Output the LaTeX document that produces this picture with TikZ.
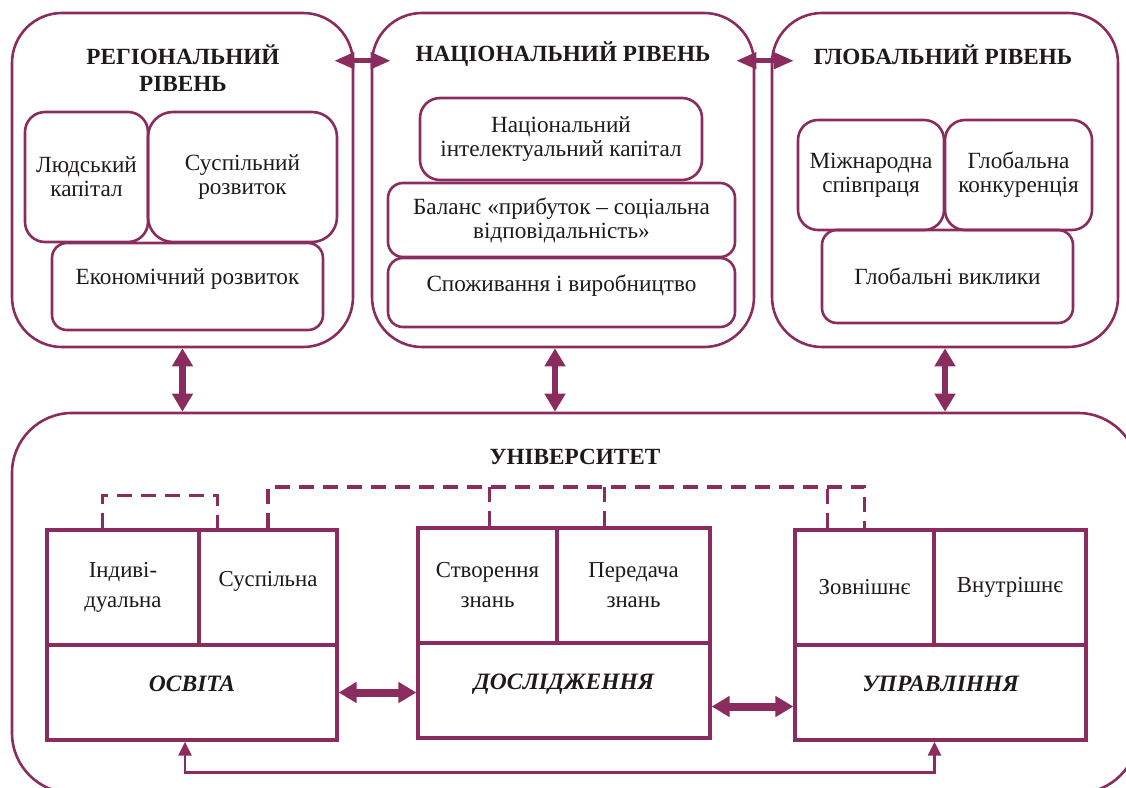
\documentclass[tikz,border=0pt]{standalone}
\usepackage{fontspec}
\setmainfont{Liberation Serif}
\usepackage{tikz}
\usetikzlibrary{calc,arrows.meta}
\definecolor{plum}{HTML}{8B2C5F}
\definecolor{ink}{HTML}{1E1A1B}
\newcommand{\itemfont}{\fontsize{23.2}{24}\selectfont}
\newcommand{\cellfont}{\fontsize{22.8}{30}\selectfont}
\tikzset{
  levelbox/.style={draw=plum, line width=2.6pt, rounded corners=#1, inner sep=0pt},
  levelbox/.default=50pt,
  itembox/.style={draw=plum, line width=2.6pt, rounded corners=#1, inner sep=0pt,
    align=center, text=ink, font=\itemfont},
  itembox/.default=20pt,
  cell/.style={draw=plum, line width=3.2pt, inner sep=0pt, align=center,
    text=ink, font=\cellfont},
  ttl/.style={text=ink, align=center, font=\fontsize{23.2}{27}\selectfont\bfseries},
  dlink/.style={draw=plum, line width=3.2pt, dash pattern=on 15pt off 9pt},
  dblarrow/.style={draw=plum, line width=#1,
    {Triangle[width=20pt,length=18pt]}-{Triangle[width=20pt,length=18pt]}},
  toparrow/.style={draw=plum, line width=4.5pt,
    {Triangle[width=16pt,length=20pt]}-{Triangle[width=16pt,length=20pt]}},
  linkarrow/.style={draw=plum, line width=2.8pt,
    {Triangle[width=13pt,length=14pt]}-{Triangle[width=13pt,length=14pt]}}
}

\begin{document}
\begin{tikzpicture}[x=1pt, y=-1pt]
  \path[use as bounding box] (0,0) rectangle (1126,787);
  \clip (0,0) rectangle (1126,787);

  % upper levels
  \node[levelbox, minimum width=341pt, minimum height=334pt] (reg) at (182.5,180) {};
  \node[levelbox, minimum width=382pt, minimum height=334pt] (nat) at (563,180) {};
  \node[levelbox, minimum width=346pt, minimum height=334pt] (glob) at (945,180) {};

  \node[ttl] (regt) at (183,68) {РЕГІОНАЛЬНИЙ\\РІВЕНЬ};
  \node[ttl] (natt) at (563,54) {НАЦІОНАЛЬНИЙ РІВЕНЬ};
  \node[ttl] (globt) at (943,55) {ГЛОБАЛЬНИЙ РІВЕНЬ};

  \node[itembox, minimum width=123pt, minimum height=130pt] (ljud) at (86.5,177) {Людський\\капітал};
  \node[itembox=25pt, minimum width=189pt, minimum height=130pt] (susp) at (242.5,177) {Суспільний\\розвиток};
  \node[itembox=15pt, minimum width=271pt, minimum height=87pt, text depth=20pt] (ekon) at (187.5,286.5) {Економічний розвиток};

  \node[itembox, minimum width=282pt, minimum height=82pt] (nik) at (561,139) {Національний\\інтелектуальний капітал};
  \node[itembox=15pt, minimum width=347pt, minimum height=74pt] (bal) at (561.5,220) {Баланс «прибуток – соціальна\\відповідальність»};
  \node[itembox=15pt, minimum width=347pt, minimum height=69pt, text depth=19pt] (spo) at (561.5,292.5) {Споживання і виробництво};

  \node[itembox, minimum width=146pt, minimum height=110pt] (mizh) at (871,175) {Міжнародна\\співпраця};
  \node[itembox, minimum width=147pt, minimum height=110pt] (konk) at (1018.5,175) {Глобальна\\конкуренція};
  \node[itembox=15pt, minimum width=251pt, minimum height=93pt] (vykl) at (947.5,276.5) {Глобальні виклики};

  \draw[toparrow] ($(reg.north east)+(-20,49)$) -- ($(nat.north west)+(20,49)$);
  \draw[toparrow] ($(nat.north east)+(-19,49)$) -- ($(glob.north west)+(23,49)$);

  % university
  \node[levelbox=60pt, minimum width=1126pt, minimum height=380pt] (uni) at (575,603) {};
  \node[ttl] (unit) at (575,457) {УНІВЕРСИТЕТ};

  \coordinate (natdown) at ($(nat.south)+(-8,0)$);
  \draw[dblarrow=6.5pt] (reg.south) -- (reg.south |- uni.north);
  \draw[dblarrow=6.5pt] (natdown) -- (natdown |- uni.north);
  \draw[dblarrow=6.5pt] (glob.south) -- (glob.south |- uni.north);

  \node[cell, minimum width=152pt, minimum height=115pt] (ind) at (123,587.5) {Індиві-\\дуальна};
  \node[cell, minimum width=138pt, minimum height=115pt, text depth=18pt] (susb) at (268,587.5) {Суспільна};
  \node[cell, minimum width=290pt, minimum height=95pt, text depth=18pt, font=\fontsize{23.5}{30}\selectfont\bfseries\itshape] (osv) at (192,692.5) {ОСВІТА};

  \node[cell, minimum width=139pt, minimum height=115pt] (stv) at (487.5,585.5) {Створення\\знань};
  \node[cell, minimum width=153pt, minimum height=115pt] (per) at (633.5,585.5) {Передача\\знань};
  \node[cell, minimum width=292pt, minimum height=95pt, text depth=18pt, font=\fontsize{23.5}{30}\selectfont\bfseries\itshape] (dos) at (564,690.5) {ДОСЛІДЖЕННЯ};

  \node[cell, minimum width=139pt, minimum height=115pt] (zovn) at (864.5,587.5) {Зовнішнє};
  \node[cell, minimum width=152pt, minimum height=115pt] (vnut) at (1010,587.5) {Внутрішнє};
  \node[cell, minimum width=291pt, minimum height=95pt, text depth=18pt, font=\fontsize{23.5}{30}\selectfont\bfseries\itshape] (upr) at (940.5,692.5) {УПРАВЛІННЯ};

  % dashed links between cells
  \draw[dlink] ($(ind.north west)+(57,0)$) -- ++(0,-33) -| ($(susb.north west)+(20,0)$);
  \coordinate (dtop) at (0,487);
  \draw[dlink] (susb.north) -- (susb.north |- dtop) -| (zovn.north);
  \draw[dlink] ($(stv.north)+(2,0)$) -- ($(stv.north |- dtop)+(2,0)$);
  \draw[dlink] ($(per.north west)+(49,0)$) -- ($(per.north west |- dtop)+(49,0)$);
  \draw[dlink] ($(zovn.north west)+(34,0)$) -- ($(zovn.north west |- dtop)+(34,0)$);

  \draw[dblarrow=8pt] (osv.east) -- (osv.east -| dos.west);
  \draw[dblarrow=8pt] ($(dos.east)+(0,16)$) -- ($(dos.east -| upr.west)+(0,16)$);
  \draw[linkarrow] ($(osv.south)+(-7,0)$) -- ++(0,31) -| ($(upr.south)+(-6,0)$);
\end{tikzpicture}
\end{document}
